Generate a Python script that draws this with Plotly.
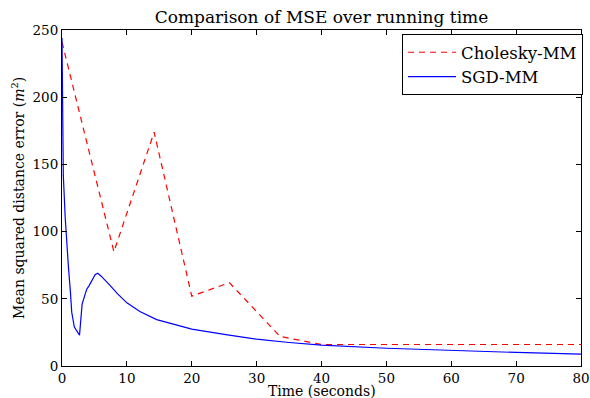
import plotly.graph_objects as go

# Cholesky-MM series
chol_t = [0, 8, 14.2, 20, 25.8, 33.6, 40, 80]
chol_v = [241, 85, 174, 52, 62, 22, 16, 16]

# SGD-MM series
sgd_t = [0, 0.2, 0.5, 0.7, 1.0, 1.3, 1.5, 1.9, 2.3, 2.7, 3.1, 3.5, 3.8, 4.2, 4.7,
         5.1, 5.5, 6.0, 7.4, 8.5, 10, 12, 14.6, 18.2, 20, 25, 30, 35, 40, 50, 60, 70, 80]
sgd_v = [244, 142, 110, 92, 73, 55, 40, 29, 26, 23, 46, 52, 57, 60, 65,
         68, 69, 67, 60, 54, 47, 40.5, 34.5, 30, 27.5, 23.5, 20, 17.5, 15.5, 13.2, 11.4, 10.1, 8.9]

x_ticks = [0, 10, 20, 30, 40, 50, 60, 70, 80]
y_ticks = [0, 50, 100, 150, 200, 250]

FONT = "DejaVu Serif"
W, H = 590, 398

fig = go.Figure()
fig.add_trace(go.Scatter(x=chol_t, y=chol_v, mode="lines", name="Cholesky-MM",
                         line=dict(color="red", width=1.2, dash="6px,5px")))
fig.add_trace(go.Scatter(x=sgd_t, y=sgd_v, mode="lines", name="SGD-MM",
                         line=dict(color="blue", width=1.2)))

axis_common = dict(showgrid=False, zeroline=False, showline=True, linecolor="black",
                   linewidth=1, mirror="ticks", ticks="inside", ticklen=5,
                   tickcolor="black", automargin=False, ticklabeloverflow="allow",
                   tickfont=dict(family=FONT, size=13.5, color="black"))

fig.update_layout(
    width=W, height=H,
    margin=dict(l=62, r=8, t=30, b=32),
    paper_bgcolor="white", plot_bgcolor="white",
    title=dict(text="Comparison of MSE over running time", x=0.5, xref="paper",
               xanchor="center", y=1 - 17 / H, yref="container", yanchor="middle",
               font=dict(family=FONT, size=17, color="black")),
    xaxis=dict(range=[0, 80], tickvals=x_ticks, **axis_common),
    yaxis=dict(range=[0, 250], tickvals=y_ticks, **axis_common),
    legend=dict(x=1.002, xanchor="right", y=0.988, yanchor="top",
                bordercolor="black", borderwidth=1, bgcolor="white",
                itemwidth=48, tracegroupgap=0,
                font=dict(family=FONT, size=16.5, color="black")),
    showlegend=True,
    annotations=[
        dict(text="Time (seconds)", xref="paper", yref="paper", x=0.5, y=0,
             xanchor="center", yanchor="middle", yshift=-25, showarrow=False,
             font=dict(family=FONT, size=14, color="black")),
        dict(text="Mean squared distance error (<i>m</i><sup>2</sup>)", xref="paper",
             yref="paper", x=0, y=0.5, xanchor="center", yanchor="middle",
             xshift=-44, textangle=-90, showarrow=False,
             font=dict(family=FONT, size=14, color="black")),
    ],
)

fig.write_html("out.html", config={"displayModeBar": False},
               post_script="document.body.style.margin='0';document.body.style.overflow='hidden';")
